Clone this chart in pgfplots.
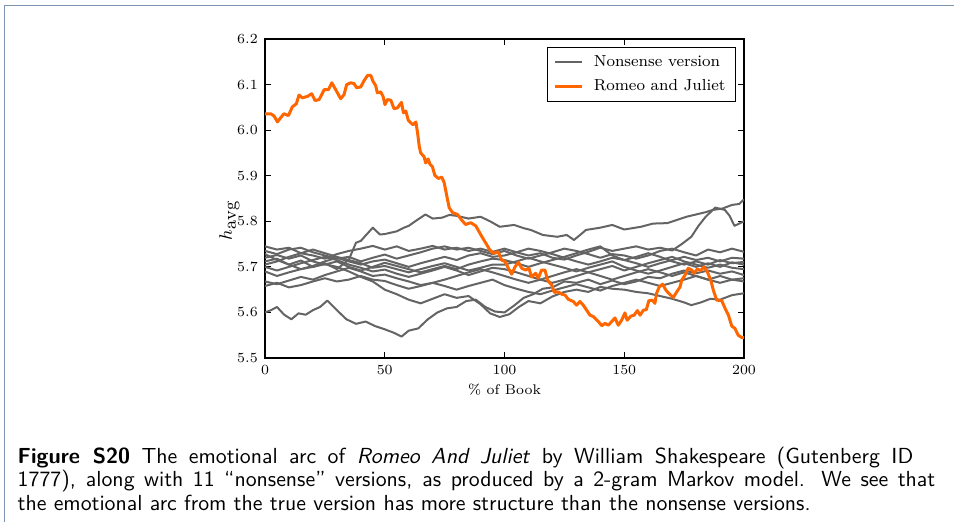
\documentclass[border=0pt]{standalone}
\usepackage{pgfplots}
\pgfplotsset{compat=1.18}
\definecolor{nsgray}{RGB}{100,100,100}
\definecolor{rjorange}{RGB}{255,102,0}
\definecolor{framecol}{RGB}{125,148,176}
\begin{document}
\begin{tikzpicture}[x=0.5pt,y=-0.5pt]
\useasboundingbox (0,0) rectangle (954,521);
% frame of the figure box
\draw[framecol, line width=0.8pt] (4.5,530) -- (4.5,5.5) -- (960,5.5);
\begin{axis}[
    at={(132.5pt,-179pt)}, anchor=south west,
    scale only axis, width=239.5pt, height=159.5pt,
    xmin=0, xmax=200, ymin=5.5, ymax=6.2,
    xtick={0,50,100,150,200},
    ytick={5.5,5.6,5.7,5.8,5.9,6.0,6.1,6.2},
    yticklabel style={/pgf/number format/.cd, fixed, fixed zerofill, precision=1},
    tick align=inside, major tick length=3pt,
    axis line style={line width=0.7pt},
    tick style={black, line width=0.5pt},
    tick label style={font=\fontsize{7}{8}\selectfont},
    xlabel style={font=\fontsize{7}{8}\selectfont},
    ylabel style={font=\fontsize{9}{10}\selectfont, at={(ticklabel cs:0.43)}},
    xlabel={\% of Book},
    ylabel={$h$\raisebox{-2pt}{\fontsize{9}{10}\selectfont avg}},
    xlabel shift=-2pt,
    ylabel shift=-8pt,
    legend style={at={(1,1)}, anchor=north east, xshift=-4pt, yshift=-4pt,
        draw=black, line width=0.5pt, font=\fontsize{8}{9.6}\selectfont,
        inner xsep=3pt, inner ysep=2pt, row sep=1pt, column sep=3pt},
    legend cell align=left,
    legend image code/.code={\draw[#1] (0pt,0pt) -- (13.5pt,0pt);},
    every axis plot/.append style={line join=round},
]
% nonsense versions
\addplot[nsgray, line width=1pt] coordinates {
(0,5.712) (5,5.718) (10,5.705) (15,5.714) (20,5.700) (25,5.708) (30,5.695) (35,5.716) (38,5.753) (40,5.757) (45,5.786) (48,5.771) (50,5.772) (55,5.778) (58,5.786) (60,5.790) (63,5.801) (67,5.815) (70,5.806) (74,5.808) (77,5.814) (80,5.812) (85,5.806) (90,5.810) (94,5.800) (98,5.788) (104,5.792) (108,5.785) (111,5.781) (116,5.770) (122,5.766) (126,5.770) (129,5.759) (132,5.772) (134,5.781) (140,5.786) (145,5.792) (150,5.782) (157,5.788) (162,5.795) (168,5.796) (172,5.803) (176,5.810) (180,5.815) (184,5.820) (187,5.825) (191,5.828) (195,5.836) (198,5.838) (200,5.848)
};
\addlegendentry{Nonsense version}
\addplot[nsgray, line width=1pt, forget plot] coordinates {
(0,5.745) (5,5.738) (10,5.742) (15,5.730) (20,5.725) (25,5.718) (30,5.728) (35,5.735) (40,5.740) (45,5.746) (50,5.738) (55,5.745) (60,5.735) (65,5.740) (70,5.746) (75,5.738) (80,5.742) (85,5.735) (90,5.740) (95,5.733) (100,5.740) (105,5.732) (110,5.725) (115,5.730) (120,5.720) (125,5.716) (130,5.725) (135,5.733) (140,5.742) (145,5.735) (150,5.740) (155,5.745) (160,5.738) (165,5.742) (170,5.736) (174,5.750) (178,5.766) (181,5.790) (184,5.810) (188,5.830) (192,5.825) (194,5.812) (196,5.790) (198,5.795) (200,5.800)
};
\addplot[nsgray, line width=1pt, forget plot] coordinates {
(0,5.735) (5,5.728) (10,5.738) (15,5.742) (20,5.732) (25,5.725) (30,5.718) (35,5.722) (40,5.712) (45,5.720) (50,5.727) (55,5.718) (60,5.725) (65,5.732) (70,5.740) (75,5.745) (80,5.738) (85,5.742) (90,5.735) (95,5.728) (100,5.735) (105,5.725) (110,5.718) (115,5.725) (120,5.732) (125,5.740) (130,5.735) (135,5.728) (140,5.720) (145,5.728) (150,5.725) (155,5.718) (160,5.725) (165,5.735) (170,5.740) (175,5.732) (180,5.725) (185,5.738) (190,5.732) (195,5.740) (200,5.733)
};
\addplot[nsgray, line width=1pt, forget plot] coordinates {
(0,5.728) (5,5.715) (10,5.705) (15,5.695) (20,5.702) (25,5.712) (30,5.720) (35,5.712) (40,5.705) (45,5.712) (50,5.716) (55,5.708) (60,5.700) (65,5.708) (70,5.715) (75,5.722) (80,5.715) (85,5.725) (90,5.730) (95,5.722) (100,5.725) (105,5.732) (110,5.740) (115,5.735) (120,5.728) (125,5.720) (130,5.712) (135,5.705) (140,5.712) (145,5.720) (150,5.715) (155,5.708) (160,5.700) (165,5.708) (170,5.715) (175,5.722) (180,5.715) (185,5.720) (190,5.712) (195,5.720) (200,5.718)
};
\addplot[nsgray, line width=1pt, forget plot] coordinates {
(0,5.720) (5,5.726) (10,5.718) (15,5.725) (20,5.712) (25,5.705) (30,5.712) (35,5.700) (40,5.692) (45,5.700) (50,5.709) (55,5.702) (60,5.695) (65,5.688) (70,5.695) (75,5.702) (80,5.695) (85,5.705) (90,5.712) (95,5.718) (100,5.715) (105,5.708) (110,5.700) (115,5.708) (120,5.715) (125,5.722) (130,5.730) (135,5.738) (140,5.745) (145,5.725) (150,5.715) (155,5.722) (160,5.730) (165,5.722) (170,5.712) (175,5.705) (180,5.712) (185,5.705) (190,5.715) (195,5.708) (200,5.711)
};
\addplot[nsgray, line width=1pt, forget plot] coordinates {
(0,5.705) (5,5.712) (10,5.722) (15,5.730) (20,5.738) (25,5.730) (30,5.722) (35,5.715) (40,5.708) (45,5.698) (50,5.702) (55,5.695) (60,5.688) (65,5.695) (70,5.702) (75,5.708) (80,5.700) (85,5.692) (90,5.698) (95,5.705) (100,5.705) (105,5.712) (110,5.720) (115,5.712) (120,5.705) (125,5.698) (130,5.690) (135,5.698) (140,5.705) (145,5.712) (150,5.700) (155,5.692) (160,5.685) (165,5.692) (170,5.700) (175,5.708) (180,5.700) (185,5.708) (190,5.700) (195,5.710) (200,5.705)
};
\addplot[nsgray, line width=1pt, forget plot] coordinates {
(0,5.700) (5,5.692) (10,5.700) (15,5.708) (20,5.715) (25,5.722) (30,5.715) (35,5.705) (40,5.698) (45,5.690) (50,5.694) (55,5.685) (60,5.678) (65,5.685) (70,5.692) (75,5.700) (80,5.692) (85,5.682) (90,5.690) (95,5.698) (100,5.695) (105,5.688) (110,5.680) (115,5.672) (120,5.665) (125,5.672) (130,5.680) (135,5.688) (140,5.695) (145,5.702) (150,5.692) (155,5.700) (160,5.708) (165,5.715) (170,5.722) (175,5.712) (180,5.705) (185,5.698) (190,5.705) (195,5.698) (200,5.695)
};
\addplot[nsgray, line width=1pt, forget plot] coordinates {
(0,5.668) (5,5.662) (10,5.670) (15,5.678) (20,5.672) (25,5.682) (30,5.690) (35,5.698) (40,5.690) (45,5.680) (50,5.683) (55,5.675) (60,5.668) (65,5.660) (70,5.665) (75,5.672) (80,5.680) (85,5.688) (90,5.695) (95,5.688) (100,5.680) (105,5.672) (110,5.665) (115,5.672) (120,5.680) (125,5.688) (130,5.695) (135,5.688) (140,5.680) (145,5.672) (150,5.680) (155,5.688) (160,5.695) (165,5.688) (170,5.680) (175,5.688) (180,5.680) (185,5.672) (190,5.680) (195,5.672) (200,5.675)
};
\addplot[nsgray, line width=1pt, forget plot] coordinates {
(0,5.658) (5,5.665) (10,5.655) (15,5.660) (20,5.668) (25,5.675) (30,5.668) (35,5.672) (40,5.680) (45,5.672) (50,5.669) (55,5.660) (60,5.652) (65,5.658) (70,5.665) (75,5.658) (80,5.650) (85,5.658) (90,5.665) (95,5.672) (100,5.660) (105,5.652) (110,5.645) (115,5.640) (120,5.648) (125,5.655) (130,5.662) (135,5.655) (140,5.648) (145,5.658) (150,5.665) (155,5.672) (160,5.665) (165,5.658) (170,5.665) (175,5.672) (180,5.680) (185,5.672) (190,5.665) (195,5.672) (200,5.668)
};
\addplot[nsgray, line width=1pt, forget plot] coordinates {
(0,5.690) (5,5.680) (10,5.688) (15,5.695) (20,5.700) (25,5.706) (30,5.700) (35,5.690) (40,5.678) (45,5.668) (50,5.650) (55,5.640) (60,5.628) (65,5.620) (70,5.630) (75,5.640) (80,5.632) (85,5.636) (90,5.618) (94,5.598) (98,5.590) (102,5.596) (106,5.612) (110,5.625) (115,5.620) (120,5.635) (125,5.645) (130,5.650) (135,5.645) (140,5.656) (145,5.652) (150,5.650) (155,5.645) (160,5.642) (165,5.636) (170,5.630) (175,5.622) (178,5.616) (182,5.622) (186,5.630) (190,5.628) (195,5.638) (200,5.642)
};
\addplot[nsgray, line width=1pt, forget plot] coordinates {
(0,5.600) (2.5,5.605) (5,5.612) (8,5.595) (11,5.585) (14,5.598) (17,5.595) (20,5.605) (23,5.612) (26,5.626) (30,5.605) (34,5.585) (38,5.575) (42,5.580) (46,5.570) (50,5.563) (54,5.555) (57,5.547) (60,5.560) (64,5.565) (68,5.585) (72,5.600) (76,5.609) (80,5.612) (84,5.625) (88,5.628) (92,5.612) (96,5.602) (100,5.600) (104,5.615) (108,5.632) (112,5.640) (116,5.652) (120,5.655) (125,5.668) (130,5.665) (135,5.672) (140,5.662) (145,5.670) (150,5.662) (155,5.668) (160,5.678) (165,5.675) (170,5.685) (175,5.692) (180,5.686) (185,5.692) (190,5.685) (195,5.690) (200,5.682)
};
% true text
\addplot[rjorange, line width=1.5pt] coordinates {
(0,6.036) (2.4,6.036) (3.8,6.031) (5.2,6.018) (6.5,6.027) (7.9,6.036) (9.8,6.032) (11.4,6.051) (13.1,6.058) (14.2,6.077) (15.6,6.071) (17.7,6.074) (19.5,6.080) (20.9,6.065) (22.6,6.067) (24.7,6.089) (26.5,6.089) (27.9,6.104) (29.5,6.089) (31.6,6.069) (33.0,6.078) (34.1,6.100) (35.8,6.104) (37.2,6.102) (38.3,6.093) (40.0,6.095) (41.4,6.109) (42.8,6.120) (44.2,6.120) (45.1,6.107) (46.2,6.098) (46.9,6.082) (48.3,6.084) (49.3,6.074) (50.1,6.056) (51.1,6.067) (52.5,6.066) (53.9,6.047) (55.3,6.049) (57.0,6.061) (57.8,6.038) (58.8,6.042) (59.8,6.022) (60.9,6.016) (61.8,6.012) (63.0,6.018) (63.7,5.994) (64.4,5.965) (65.0,5.950) (66.4,5.942) (67.1,5.928) (68.1,5.937) (68.9,5.925) (69.9,5.920) (70.9,5.901) (72.4,5.894) (73.8,5.897) (74.8,5.885) (76.2,5.848) (76.9,5.830) (78.3,5.819) (80.4,5.815) (82.2,5.802) (83.8,5.793) (85.9,5.797) (88.0,5.790) (89.4,5.777) (90.8,5.764) (92.2,5.752) (93.9,5.737) (95.3,5.730) (97.4,5.733) (98.8,5.715) (100.2,5.712) (101.6,5.697) (103.0,5.684) (104.4,5.700) (105.8,5.710) (107.2,5.697) (108.8,5.693) (110.2,5.697) (111.3,5.678) (113.0,5.686) (114.1,5.675) (115.5,5.693) (116.9,5.693) (118.0,5.671) (119.7,5.660) (120.8,5.644) (122.5,5.645) (123.9,5.640) (125.3,5.638) (126.6,5.629) (128.7,5.624) (130.1,5.616) (131.5,5.624) (132.9,5.616) (134.3,5.605) (135.7,5.594) (137.1,5.591) (139.2,5.580) (140.6,5.571) (142.0,5.576) (143.3,5.572) (144.8,5.580) (146.1,5.588) (147.5,5.572) (148.9,5.583) (150.3,5.599) (151.2,5.583) (152.8,5.592) (154.1,5.594) (155.5,5.604) (156.6,5.594) (158.0,5.605) (159.2,5.606) (160.3,5.626) (161.7,5.627) (162.8,5.620) (163.5,5.642) (164.6,5.656) (166.0,5.662) (167.4,5.649) (168.4,5.643) (169.4,5.638) (170.5,5.633) (171.9,5.645) (173.3,5.656) (174.0,5.671) (175.4,5.682) (176.7,5.697) (178.2,5.693) (179.1,5.686) (180.5,5.695) (181.9,5.692) (183.3,5.700) (184.7,5.689) (186.1,5.671) (187.2,5.649) (188.6,5.627) (190.7,5.626) (192.1,5.609) (193.5,5.594) (194.9,5.570) (196.2,5.565) (197.6,5.550) (199.0,5.545) (200,5.545)
};
\addlegendentry{Romeo and Juliet}
\end{axis}
% caption
\begin{scope}[every node/.style={anchor=base west, inner sep=0pt, font=\sffamily\fontsize{10.9}{12}\selectfont}]
\node at (17.3,463) {\makebox[447.8pt][s]{\textbf{Figure S20} The emotional arc of \textit{Romeo And Juliet} by William Shakespeare (Gutenberg ID}};
\node at (17.3,486.5) {\makebox[458.8pt][s]{1777), along with 11 ``nonsense'' versions, as produced by a 2-gram Markov model. We see that}};
\node at (17.3,510) {the emotional arc from the true version has more structure than the nonsense versions.};
\end{scope}
\end{tikzpicture}
\end{document}
